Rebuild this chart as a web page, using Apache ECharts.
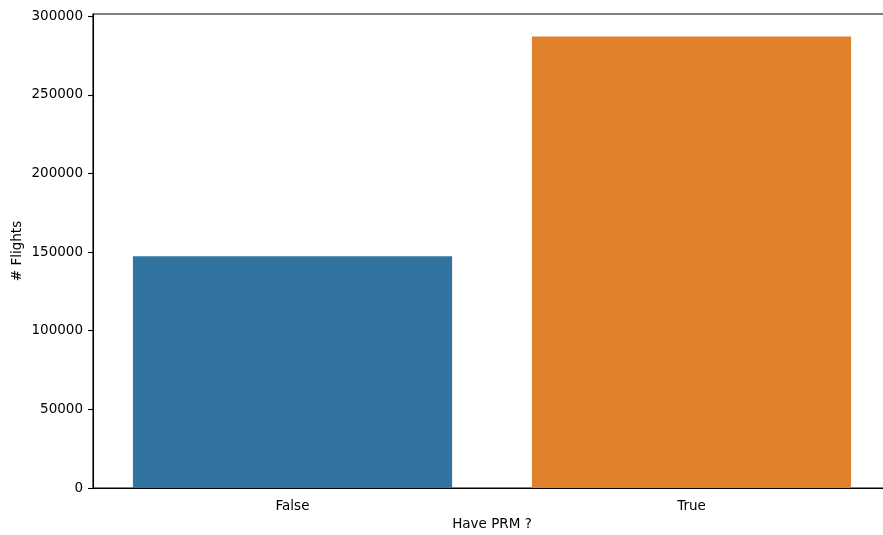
<!DOCTYPE html>
<html><head><meta charset="utf-8">
<script src="https://cdn.jsdelivr.net/npm/echarts@6/dist/echarts.min.js"></script>
<style>html,body{margin:0;padding:0;background:#fff}#c{width:883px;height:535px}</style>
</head><body><div id="c"></div>
<script>
const categories = ["False", "True"];
const flights = [147300, 287000];
const barColors = ["#3274a1", "#e1812c"];
const yTicks = [0, 50000, 100000, 150000, 200000, 250000, 300000];
const yMax = 301350;

const chart = echarts.init(document.getElementById('c'), null, {renderer: 'canvas'});
const font = 'DejaVu Sans';
chart.setOption({
  animation: false,
  backgroundColor: '#fff',
  textStyle: {fontFamily: font},
  grid: {left: 93, top: 14, width: 798, height: 474, outerBoundsMode: 'none', containLabel: false,
         show: true, borderColor: '#000', borderWidth: 1.1, backgroundColor: 'transparent'},
  xAxis: {
    type: 'category', data: categories,
    boundaryGap: true,
    axisLine: {lineStyle: {color: '#000', width: 1.1}},
    axisTick: {alignWithLabel: true, length: 5, lineStyle: {color: '#000', width: 1.1}},
    axisLabel: {color: '#000', fontFamily: font, fontSize: 13.5, margin: 11},
    name: 'Have PRM ?', nameLocation: 'middle', nameGap: 29, nameMoveOverlap: false,
    nameTextStyle: {color: '#000', fontFamily: font, fontSize: 13.5}
  },
  yAxis: {
    type: 'value', min: 0, max: yMax,
    splitLine: {show: false},
    axisLine: {show: true, lineStyle: {color: '#000', width: 1.1}},
    axisTick: {show: true, length: 5, customValues: yTicks, lineStyle: {color: '#000', width: 1.1}},
    axisLabel: {color: '#000', fontFamily: font, fontSize: 13.5, margin: 10, customValues: yTicks,
                formatter: v => String(v)},
    name: '# Flights', nameLocation: 'middle', nameGap: 69, nameRotate: 90, nameMoveOverlap: false,
    nameTextStyle: {color: '#000', fontFamily: font, fontSize: 13.5}
  },
  series: [{
    type: 'bar',
    barCategoryGap: '20%',
    data: flights.map((v, i) => ({value: v, itemStyle: {color: barColors[i]}}))
  }]
});
</script></body></html>
